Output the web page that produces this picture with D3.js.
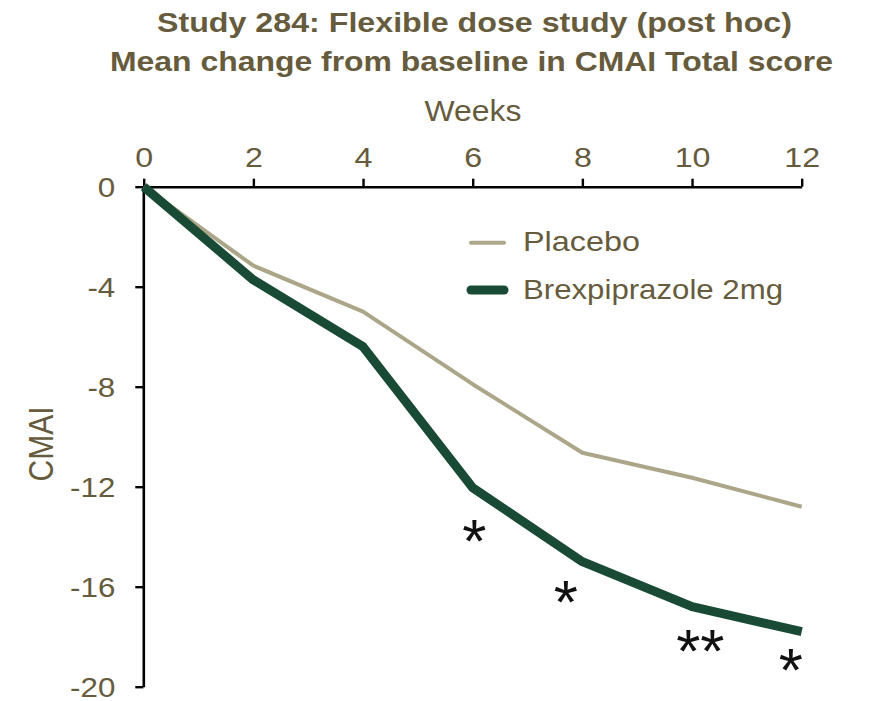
<!DOCTYPE html>
<html><head><meta charset="utf-8">
<script src="https://cdn.jsdelivr.net/npm/d3@7"></script>
<style>body{margin:0;background:#fff}svg{display:block}text{font-family:"Liberation Sans",Arial,sans-serif}</style>
</head><body>
<svg id="c" width="869" height="701"></svg>
<script>
const weeks = [0, 2, 4, 6, 8, 10, 12];
const placebo = [0, -3.16, -5.0, -7.9, -10.64, -11.64, -12.8];
const brex = [0, -3.73, -6.4, -12.04, -15.0, -16.8, -17.8];
const xTicks = [0, 2, 4, 6, 8, 10, 12];
const yTicks = [0, -4, -8, -12, -16, -20];
const seriesNames = ["Placebo", "Brexpiprazole 2mg"];
const titleLines = ["Study 284: Flexible dose study (post hoc)", "Mean change from baseline in CMAI Total score"];
const sigLabels = ["*", "*", "**", "*"];
const sigWeek = [6.03, 7.7, 10.15, 11.8];
const sigValue = [-13.85, -16.3, -18.25, -19.0];

const brown = "#665b3c", cPlacebo = "#aca689", cBrex = "#184a35";
const svg = d3.select("#c");
const x = d3.scaleLinear().domain([0, 12]).range([143.7, 801.7]);
const y = d3.scaleLinear().domain([0, -20]).range([186.7, 686.7]);
const fmt = d => String(d);

// titles
const tl = [{t: titleLines[0], cx: 474.5, by: 32, w: 635}, {t: titleLines[1], cx: 471.5, by: 71, w: 723}];
tl.forEach(d => svg.append("text").attr("x", d.cx).attr("y", d.by).attr("text-anchor", "middle")
  .attr("font-size", 27).attr("font-weight", "bold").attr("fill", brown)
  .attr("textLength", d.w).attr("lengthAdjust", "spacingAndGlyphs").text(d.t));

// x axis (top)
const gx = svg.append("g").attr("transform", `translate(0,${y(0)})`)
  .call(d3.axisTop(x).tickValues(xTicks).tickSize(8).tickSizeOuter(0).tickPadding(12).tickFormat(fmt));
gx.select(".domain").attr("stroke", "#000").attr("stroke-width", 2.6);
gx.selectAll(".tick line").attr("stroke", "#000").attr("stroke-width", 2.4);
gx.selectAll(".tick text").attr("font-size", 28).attr("fill", brown).attr("transform", "scale(1.15,1)");

// y axis
const gy = svg.append("g").attr("transform", `translate(${x(0) - 0.4},0)`)
  .call(d3.axisLeft(y).tickValues(yTicks).tickSize(8).tickSizeOuter(0).tickPadding(20).tickFormat(fmt));
gy.select(".domain").attr("stroke", "#000").attr("stroke-width", 2.6);
gy.selectAll(".tick line").attr("stroke", "#000").attr("stroke-width", 2.4);
gy.selectAll(".tick text").attr("font-size", 28).attr("fill", brown).attr("dy", "0.36em")
  .attr("x", -25).attr("transform", "scale(1.12,1)");

// axis titles
svg.append("text").attr("x", 473).attr("y", 121).attr("text-anchor", "middle").attr("font-size", 29)
  .attr("fill", brown).attr("textLength", 97).attr("lengthAdjust", "spacingAndGlyphs").text("Weeks");
svg.append("text").attr("transform", "translate(53,444) scale(1.16,1) rotate(-90)")
  .attr("text-anchor", "middle").attr("font-size", 30).attr("fill", brown).text("CMAI");

// lines
const line = d3.line().x((d, i) => x(weeks[i])).y(d => y(d));
svg.append("path").datum(placebo).attr("d", line).attr("fill", "none").attr("stroke", cPlacebo)
  .attr("stroke-width", 4).attr("stroke-linejoin", "round");
svg.append("path").datum(brex).attr("d", line).attr("fill", "none").attr("stroke", cBrex)
  .attr("stroke-width", 9).attr("stroke-linejoin", "round");

// legend
const leg = [{n: seriesNames[0], c: cPlacebo, w: 4, ly: 242.7, ty: 251, tw: 117},
             {n: seriesNames[1], c: cBrex, w: 9, ly: 290, ty: 299, tw: 260}];
leg.forEach(d => {
  svg.append("line").attr("x1", 471).attr("x2", 504).attr("y1", d.ly).attr("y2", d.ly)
    .attr("stroke", d.c).attr("stroke-width", d.w).attr("stroke-linecap", "round");
  svg.append("text").attr("x", 523).attr("y", d.ty).attr("font-size", 28).attr("fill", brown)
    .attr("textLength", d.tw).attr("lengthAdjust", "spacingAndGlyphs").text(d.n);
});

// significance markers
const F = 62;
sigLabels.forEach((s, i) => {
  svg.append("text").attr("x", x(sigWeek[i])).attr("y", y(sigValue[i]) + 0.47 * F)
    .attr("text-anchor", "middle").attr("font-size", F).attr("fill", "#111").text(s);
});
</script>
</body></html>
